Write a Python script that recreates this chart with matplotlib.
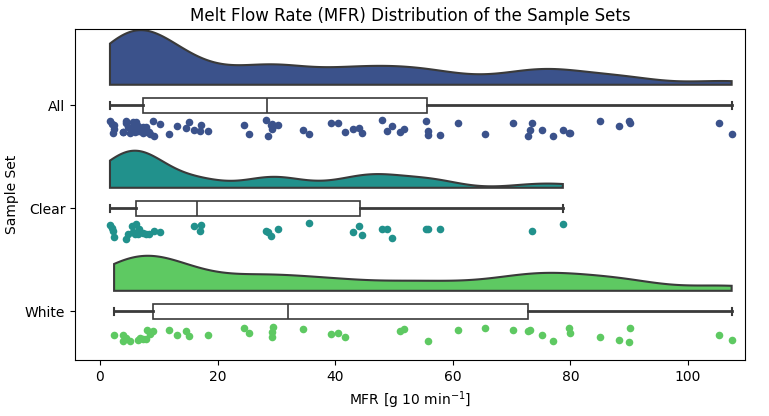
import numpy as np
import matplotlib
matplotlib.use("Agg")
import matplotlib.pyplot as plt

# MFR values
clear_mfr = [1.7, 2.0, 2.2, 2.3, 4.4, 4.8, 5.4, 5.7, 6.0, 6.2, 6.5, 6.7, 7.4, 7.8,
             8.4, 9.2, 10.2, 16.0, 17.0, 17.2, 28.3, 28.6, 29.0, 30.3, 35.5, 43.1,
             44.1, 44.5, 48.0, 48.8, 49.7, 55.5, 55.7, 57.8, 73.5, 78.7]
white_mfr = [2.4, 3.9, 4.0, 4.5, 5.1, 6.5, 6.8, 7.3, 7.8, 8.0, 8.5, 9.1, 11.8,
             13.1, 14.6, 15.2, 18.4, 24.5, 25.3, 29.2, 29.2, 29.5, 34.5, 39.3,
             40.5, 41.7, 51.0, 51.7, 55.8, 60.8, 65.4, 70.2, 72.7, 73.2, 75.2,
             77.0, 79.8, 79.9, 85.0, 88.3, 90.0, 90.1, 105.2, 107.4]
all_mfr = clear_mfr + white_mfr

groups = ['All', 'Clear', 'White']
data = [all_mfr, clear_mfr, white_mfr]
colors = ['#3b528b', '#21918c', '#5ec962']
edge = '#3a3a3a'
cloud_height = [0.53, 0.36, 0.34]


def kde(values, grid, bw_factor=0.2):
    v = np.asarray(values)
    bw = bw_factor * v.std(ddof=1)
    z = (grid[:, None] - v[None, :]) / bw
    return np.exp(-0.5 * z ** 2).sum(axis=1)


fig, ax = plt.subplots(figsize=(7.69, 4.16), dpi=100)
fig.subplots_adjust(left=0.0975, right=0.969, bottom=0.135, top=0.93)

rng = np.random.default_rng(3)
for i, (vals, col) in enumerate(zip(data, colors)):
    grid = np.linspace(min(vals), max(vals), 400)
    dens = kde(vals, grid)
    base = i - 0.2
    h = dens / dens.max() * cloud_height[i]
    xs = np.concatenate([grid, grid[::-1]])
    ys = np.concatenate([base - h, np.full_like(grid, base)])
    ax.fill(xs, ys, facecolor=col, edgecolor=edge, linewidth=1.5, zorder=2)

    # rain
    jit = rng.uniform(-0.08, 0.08, len(vals))
    ax.scatter(vals, i + 0.22 + jit, s=30, color=col, linewidths=0, zorder=3)

bp = ax.boxplot(data, positions=range(3), vert=False, widths=0.15,
                patch_artist=True, showfliers=False, whis=1.5,
                boxprops=dict(facecolor='white', edgecolor=edge, linewidth=1.2),
                medianprops=dict(color=edge, linewidth=1.2),
                whiskerprops=dict(color=edge, linewidth=2),
                capprops=dict(color=edge, linewidth=1.5), capwidths=0.07)

ax.set_ylim(2.47, -0.74)
ax.set_xlim(-4.25, 109.7)
ax.set_yticks(range(3))
ax.set_yticklabels(groups, fontsize=10)
ax.tick_params(axis='x', labelsize=10)
ax.set_xlabel('MFR [g 10 min$^{-1}$]', fontsize=10)
ax.set_ylabel('Sample Set', fontsize=10)
ax.set_title('Melt Flow Rate (MFR) Distribution of the Sample Sets', fontsize=12)

fig.savefig('out.png', dpi=100)
